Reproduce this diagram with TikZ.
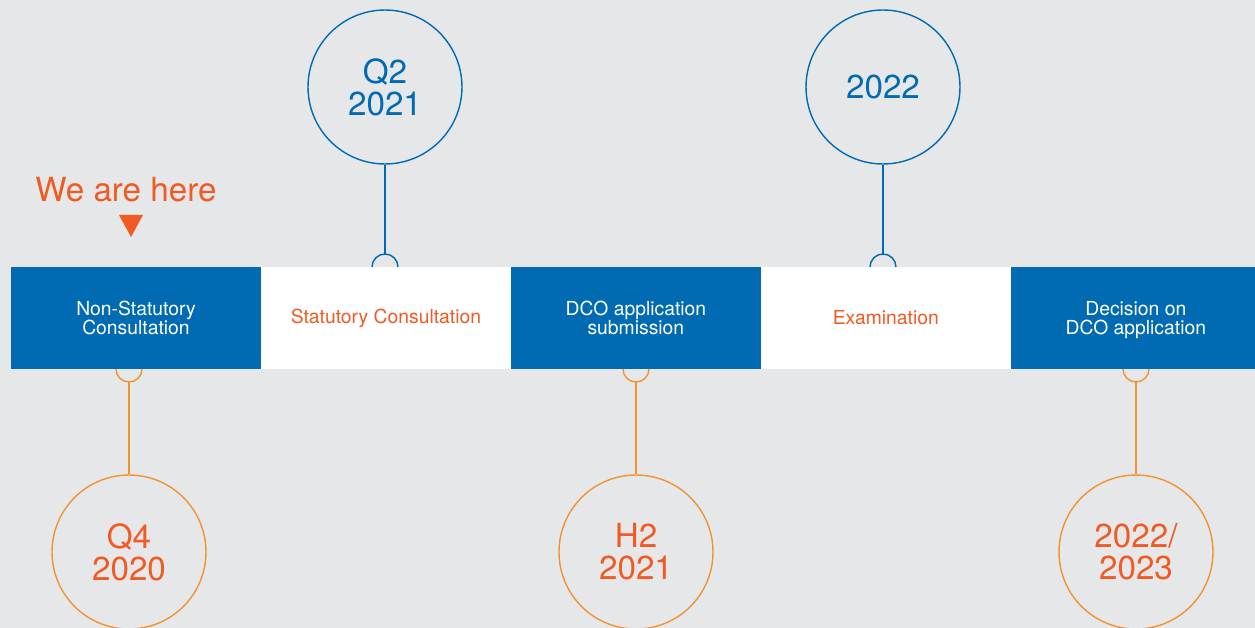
\documentclass[tikz,border=0pt]{standalone}
\usepackage{fontspec}
\setmainfont{TeX Gyre Heros}
\usetikzlibrary{positioning}
\definecolor{panelgray}{HTML}{E6E7E8}
\definecolor{dcoblue}{HTML}{006BB3}
\definecolor{txtorange}{HTML}{F15A22}
\definecolor{lineorange}{HTML}{F29331}

\begin{document}
\begin{tikzpicture}[x=0.02cm, y=-0.02cm,
  stage/.style={minimum width=5cm, minimum height=2.04cm, inner sep=0pt, outer sep=0pt, align=center, font=\fontsize{11}{10.8}\selectfont},
  bluestage/.style={stage, fill=dcoblue, text=white},
  whitestage/.style={stage, fill=white, text=txtorange},
  date/.style={circle, draw, line width=0.8pt, minimum size=3.08cm, inner sep=0pt, align=center, font=\fontsize{18.9}{18.2}\selectfont},
  topdate/.style={date, draw=dcoblue, text=dcoblue},
  botdate/.style={date, draw=lineorange, text=txtorange},
  bluestem/.style={draw=dcoblue, line width=0.8pt},
  orangestem/.style={draw=lineorange, line width=0.8pt}]
  \fill[panelgray] (0,0) rectangle (1255,628);
  \useasboundingbox (0,0) rectangle (1255,628);
  % stages
  \node[bluestage] (nsc) at (136,318) {Non-Statutory\\Consultation};
  \node[whitestage, right=0pt of nsc] (stat) {Statutory Consultation};
  \node[bluestage, right=0pt of stat] (dco) {DCO application\\submission};
  \node[whitestage, right=0pt of dco] (exam) {Examination};
  \node[bluestage, right=0pt of exam] (dec) {Decision on\\\raisebox{0pt}[\height][0pt]{DCO application}};
  % marker
  \node[text=txtorange, font=\fontsize{18.9}{20}\selectfont] (here) at (126,190) {We are here};
  \fill[txtorange] (119,215) -- (143,215) -- (131,237) -- cycle;
  % dates above
  \node[topdate] (q2) at (385,87) {Q2\\2021};
  \node[topdate] (y22) at (883,87) {2022};
  \coordinate (q2stem) at (385,254);
  \coordinate (y22stem) at (883,254);
  \draw[bluestem] (q2) -- (q2stem);
  \draw[bluestem] (y22) -- (y22stem);
  \draw[bluestem] (372,267) arc[start angle=180, end angle=360, radius=13];
  \draw[bluestem] (870,267) arc[start angle=180, end angle=360, radius=13];
  % dates below
  \node[botdate] (q4) at (129,552) {Q4\\2020};
  \node[botdate] (h2) at (636,552) {H2\\2021};
  \node[botdate] (y23) at (1136,552) {2022/\\2023};
  \coordinate (q4stem) at (129,382);
  \coordinate (h2stem) at (636,382);
  \coordinate (y23stem) at (1136,382);
  \draw[orangestem] (q4stem) -- (q4);
  \draw[orangestem] (h2stem) -- (h2);
  \draw[orangestem] (y23stem) -- (y23);
  \draw[orangestem] (116,369) arc[start angle=180, end angle=0, radius=13];
  \draw[orangestem] (623,369) arc[start angle=180, end angle=0, radius=13];
  \draw[orangestem] (1123,369) arc[start angle=180, end angle=0, radius=13];
\end{tikzpicture}
\end{document}
